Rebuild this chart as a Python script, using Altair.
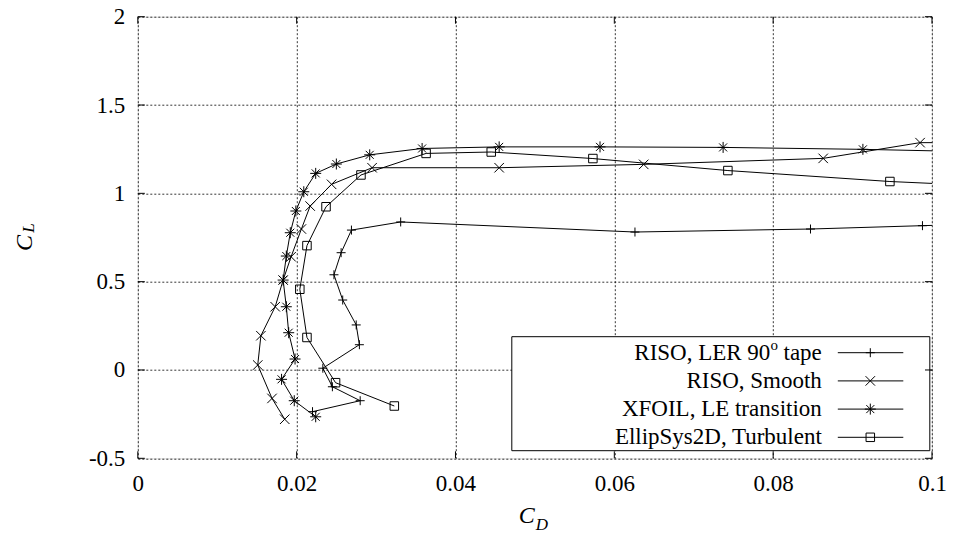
import altair as alt
import pandas as pd

# ---------------- data ----------------
series_names = ["RISO, LER 90o tape", "RISO, Smooth", "XFOIL, LE transition", "EllipSys2D, Turbulent"]

ler_cd = [0.0220, 0.0280, 0.0245, 0.0233, 0.0279, 0.0275, 0.0258, 0.0247, 0.0256, 0.0269, 0.0331, 0.0626, 0.0847, 0.0988, 0.105]
ler_cl = [-0.236, -0.174, -0.095, 0.010, 0.143, 0.255, 0.396, 0.539, 0.664, 0.792, 0.838, 0.781, 0.798, 0.817, 0.825]

smooth_cd = [0.0185, 0.0169, 0.0151, 0.0155, 0.0173, 0.0183, 0.0193, 0.0206, 0.0217, 0.0244, 0.0295, 0.0455, 0.0637, 0.0863, 0.0985, 0.105]
smooth_cl = [-0.279, -0.161, 0.028, 0.194, 0.358, 0.509, 0.641, 0.798, 0.928, 1.051, 1.145, 1.145, 1.164, 1.198, 1.287, 1.287]

xfoil_cd = [0.0224, 0.0197, 0.0181, 0.0198, 0.0190, 0.0187, 0.0183, 0.0187, 0.0192, 0.0199, 0.0209, 0.0224, 0.0250, 0.0292, 0.0358, 0.0455, 0.0582, 0.0737, 0.0913, 0.105]
xfoil_cl = [-0.265, -0.174, -0.053, 0.062, 0.211, 0.358, 0.509, 0.645, 0.777, 0.900, 1.009, 1.113, 1.166, 1.218, 1.254, 1.263, 1.263, 1.260, 1.249, 1.236]

ellip_cd = [0.0323, 0.0249, 0.0213, 0.0204, 0.0213, 0.0237, 0.0281, 0.0363, 0.0445, 0.0573, 0.0743, 0.0947, 0.105]
ellip_cl = [-0.204, -0.072, 0.184, 0.457, 0.704, 0.924, 1.104, 1.226, 1.234, 1.197, 1.129, 1.067, 1.046]

x_ticks = [0, 0.02, 0.04, 0.06, 0.08, 0.1]
y_ticks = [-0.5, 0, 0.5, 1, 1.5, 2]

# ---------------- build table ----------------
rows = []
for name, cds, cls in zip(series_names,
                          [ler_cd, smooth_cd, xfoil_cd, ellip_cd],
                          [ler_cl, smooth_cl, xfoil_cl, ellip_cl]):
    for i, (a, b) in enumerate(zip(cds, cls)):
        rows.append({"series": name, "order": i, "cd": a, "cl": b})
df = pd.DataFrame(rows)

W, H = 794.2, 441.6
FONT = "Liberation Serif"
FS = 23

plus_p = "M-0.9,0L0.9,0M0,-0.9L0,0.9"
x_p = "M-0.95,-0.95L0.95,0.95M-0.95,0.95L0.95,-0.95"
star_p = "M-1.1,0L1.1,0M0,-1.1L0,1.1M-0.8,-0.8L0.8,0.8M-0.8,0.8L0.8,-0.8"
sq_p = "M-0.85,-0.85L0.85,-0.85L0.85,0.85L-0.85,0.85Z"
paths = [plus_p, x_p, star_p, sq_p]

xscale = alt.Scale(domain=[0, 0.1], nice=False, zero=False)
yscale = alt.Scale(domain=[-0.5, 2], nice=False, zero=False)
xaxis = alt.Axis(values=x_ticks, labelExpr="'' + datum.value", grid=True, gridColor="#000",
                 gridDash=[2, 2], gridWidth=0.8, gridOpacity=1, ticks=False, domain=False,
                 labelFont=FONT, labelFontSize=FS, labelColor="black", labelPadding=14,
                 labelFlush=False, labelOverlap=False)
yaxis = alt.Axis(values=y_ticks, labelExpr="'' + datum.value", grid=True, gridColor="#000",
                 gridDash=[2, 2], gridWidth=0.8, gridOpacity=1, ticks=False, domain=False,
                 labelFont=FONT, labelFontSize=FS, labelColor="black", labelPadding=13,
                 labelFlush=False, labelOverlap=False)
X = alt.X("cd:Q", scale=xscale, axis=xaxis, title=None)
Y = alt.Y("cl:Q", scale=yscale, axis=yaxis, title=None)

base = alt.Chart(df)
lines = base.mark_line(color="black", strokeWidth=1, clip=True).encode(
    x=X, y=Y, detail="series:N", order=alt.Order("order:Q"))
points = base.transform_filter("datum.cd <= 0.1").mark_point(
    filled=False, color="black", strokeWidth=1, size=100, opacity=1).encode(
    x=X, y=Y,
    shape=alt.Shape("series:N", scale=alt.Scale(domain=series_names, range=paths), legend=None))

# inward ticks (gnuplot style, mirrored)
xt = alt.Chart(pd.DataFrame({"cd": x_ticks}))
yt = alt.Chart(pd.DataFrame({"cl": y_ticks}))
tk = 7
ticks_b = xt.mark_rule(color="black", strokeWidth=1).encode(x=X, y=alt.value(H), y2=alt.value(H - tk))
ticks_t = xt.mark_rule(color="black", strokeWidth=1).encode(x=X, y=alt.value(0), y2=alt.value(tk))
ticks_l = yt.mark_rule(color="black", strokeWidth=1).encode(y=Y, x=alt.value(0), x2=alt.value(tk))
ticks_r = yt.mark_rule(color="black", strokeWidth=1).encode(y=Y, x=alt.value(W - tk), x2=alt.value(W))

# ---------------- legend (manual, gnuplot style) ----------------
one = alt.Chart(pd.DataFrame({"k": [0]}))
box = one.mark_rect(fill="white", stroke="black", strokeWidth=1).encode(
    x=alt.value(374), x2=alt.value(792), y=alt.value(320), y2=alt.value(434))

leg_layers = [box]
row_y0, row_dy = 336, 28.2
text_right = 684
for i, name in enumerate(series_names):
    ry = row_y0 + row_dy * i
    leg_layers.append(one.mark_rule(color="black", strokeWidth=1).encode(
        x=alt.value(700), x2=alt.value(765.5), y=alt.value(ry)))
    leg_layers.append(one.mark_point(filled=False, color="black", strokeWidth=1, size=100, opacity=1).encode(
        x=alt.value(732.5), y=alt.value(ry), shape=alt.value(paths[i])))
    if i == 0:
        leg_layers.append(one.mark_text(font=FONT, fontSize=FS, align="right", baseline="middle",
                                        color="black", text="tape").encode(
            x=alt.value(text_right), y=alt.value(ry)))
        leg_layers.append(one.mark_text(font=FONT, fontSize=15, align="center", baseline="middle",
                                        color="black", text="o").encode(
            x=alt.value(636.5), y=alt.value(ry - 7.5)))
        leg_layers.append(one.mark_text(font=FONT, fontSize=FS, align="right", baseline="middle",
                                        color="black", text="RISO, LER 90").encode(
            x=alt.value(632.5), y=alt.value(ry)))
    else:
        leg_layers.append(one.mark_text(font=FONT, fontSize=FS, align="right", baseline="middle",
                                        color="black", text=name).encode(
            x=alt.value(text_right), y=alt.value(ry)))

# ---------------- axis titles with subscripts ----------------
titles = [
    one.mark_text(font=FONT, fontSize=24, fontStyle="italic", align="center", baseline="middle",
                  color="black", text="C").encode(x=alt.value(389), y=alt.value(499.5)),
    one.mark_text(font=FONT, fontSize=17, fontStyle="italic", align="center", baseline="middle",
                  color="black", text="D").encode(x=alt.value(404), y=alt.value(508.5)),
    one.mark_text(font=FONT, fontSize=24, fontStyle="italic", align="center", baseline="middle",
                  color="black", text="C", angle=270).encode(x=alt.value(-113.3), y=alt.value(226.3)),
    one.mark_text(font=FONT, fontSize=17, fontStyle="italic", align="center", baseline="middle",
                  color="black", text="L", angle=270).encode(x=alt.value(-108.8), y=alt.value(211.3)),
]

chart = alt.layer(lines, points, *leg_layers, ticks_b, ticks_t, ticks_l, ticks_r, *titles).properties(
    width=W, height=H,
    autosize=alt.AutoSizeParams(type="none"),
    padding={"left": 129.8, "top": 8.7, "right": 15, "bottom": 76},
).configure_view(stroke="black", strokeWidth=1).configure(background="white")

chart.save("out.html", embed_options={"renderer": "svg", "actions": False})
